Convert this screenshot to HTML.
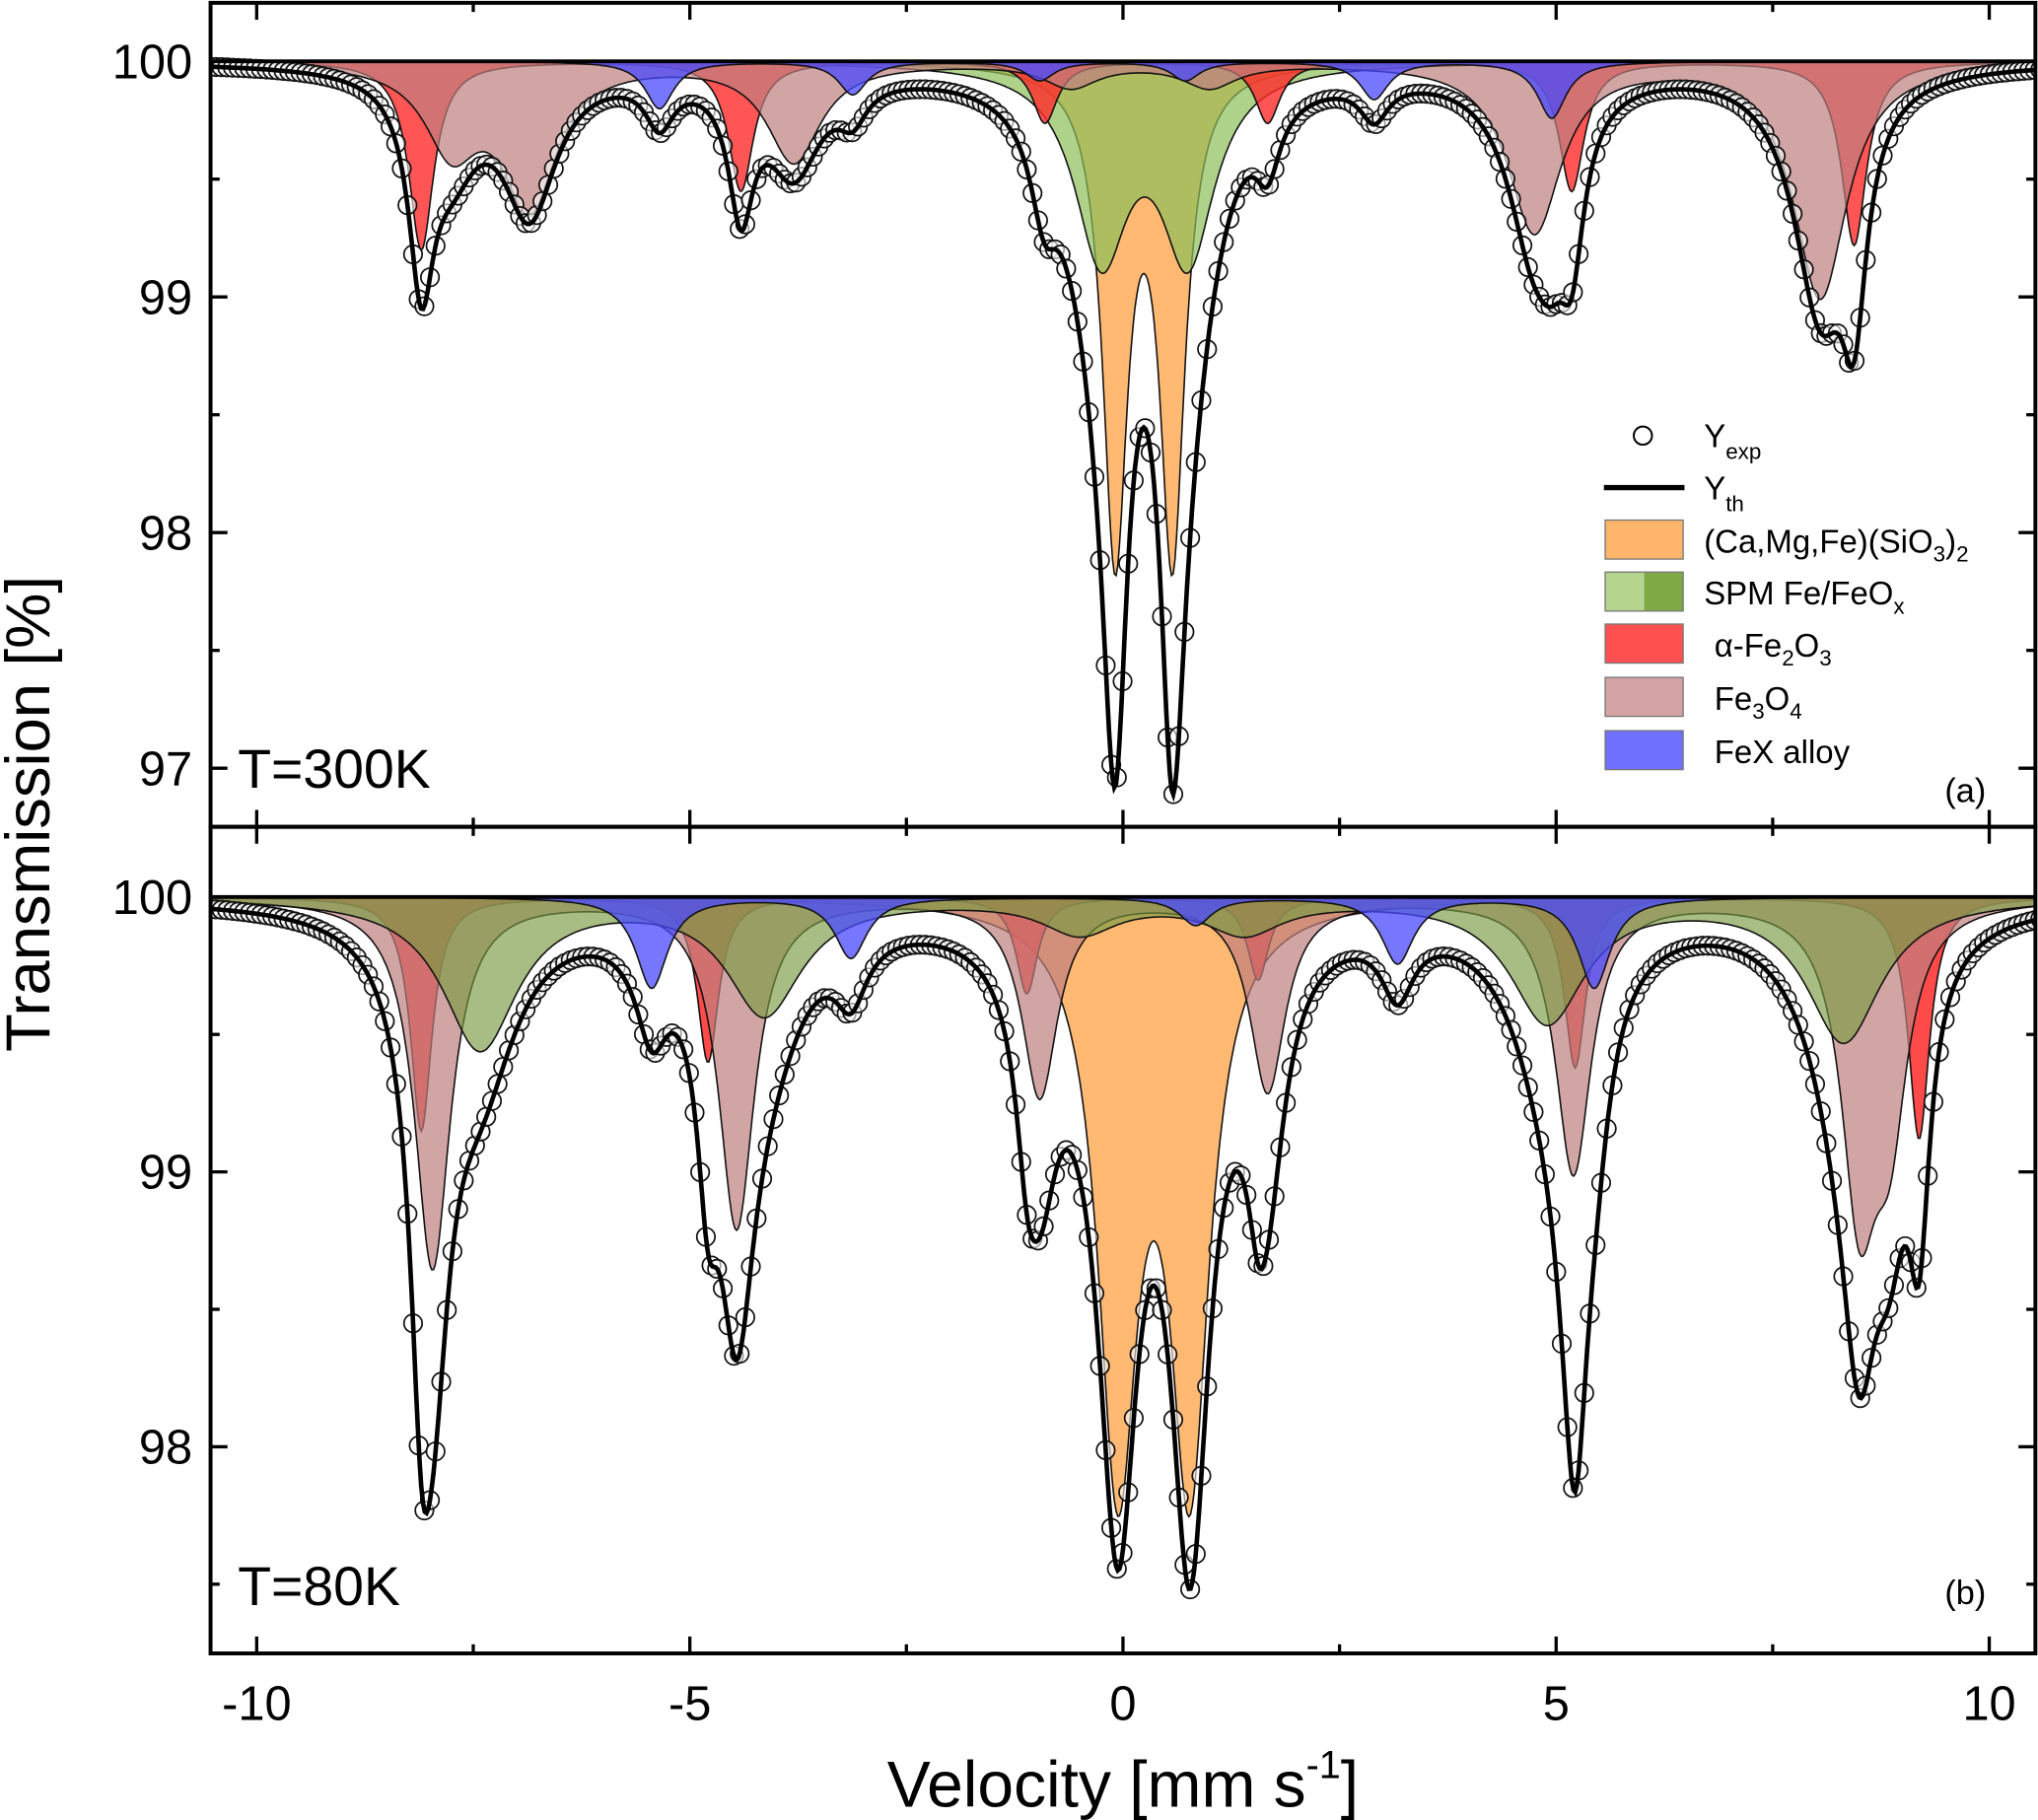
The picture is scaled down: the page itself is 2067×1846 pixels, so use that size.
<!DOCTYPE html>
<html><head><meta charset="utf-8"><style>
html,body{margin:0;padding:0;background:#fff;}
svg{display:block;font-family:"Liberation Sans",Arial,sans-serif;}
</style></head><body>
<svg id="chart" width="2067" height="1846" viewBox="0 0 1568 1400" xmlns="http://www.w3.org/2000/svg">
<defs>
<clipPath id="clipTop"><rect x="162" y="2" width="1404" height="634"/></clipPath>
<clipPath id="clipBot"><rect x="162" y="636" width="1404" height="636"/></clipPath>
</defs>
<g id="layer"></g>
</svg>
<script>
// ---- data: line positions (mm/s), depths (%), widths (mm/s) per subspectrum ----
// Top panel T=300K
const topOrangePos=[-0.09,0.57]; const topOrangeDepth=[2.05,2.05]; const topOrangeW=0.35;
const topGreenPos=[-0.25,0.75]; const topGreenDepth=[0.8,0.8]; const topGreenW=0.75;
const topRedPos=[-8.1,-4.41,-0.9,1.67,5.18,8.44]; const topRedDepth=[0.8,0.55,0.26,0.26,0.55,0.78]; const topRedW=0.35;
const topPinkPos=[-7.75,-6.85,-3.8,-0.6,1.0,4.75,8.05]; const topPinkDepth=[0.35,0.6,0.42,0.1,0.1,0.72,1.0]; const topPinkW=0.75;
const topBluePos=[-5.35,-3.12,-0.96,0.72,2.9,4.95]; const topBlueDepth=[0.2,0.14,0.08,0.08,0.16,0.24]; const topBlueW=0.4;
// Bottom panel T=80K
const botOrangePos=[-0.06,0.77]; const botOrangeDepth=[2.05,2.05]; const botOrangeW=0.55;
const botGreenPos=[-7.42,-4.14,-0.5,1.4,4.9,8.32]; const botGreenDepth=[0.55,0.42,0.12,0.12,0.45,0.52]; const botGreenW=1.05;
const botRedPos=[-8.1,-4.79,-1.11,1.56,5.22,9.19]; const botRedDepth=[0.85,0.6,0.35,0.3,0.62,0.88]; const botRedW=0.3;
const botPinkPos=[-7.97,-4.46,-0.96,1.67,5.2,8.5,8.85]; const botPinkDepth=[1.35,1.2,0.72,0.7,1.0,1.05,0.7]; const botPinkW=0.5;
const botBluePos=[-5.44,-3.14,0.84,3.17,5.44]; const botBlueDepth=[0.33,0.22,0.1,0.24,0.33]; const botBlueW=0.45;
// axis ticks
const xTicks=[-10,-5,0,5,10];
const topYTicks=[100,99,98,97];
const botYTicks=[100,99,98];

const NS="http://www.w3.org/2000/svg";
const layer=document.getElementById('layer');
function mk(tag,attrs,parent){const e=document.createElementNS(NS,tag);for(const k in attrs)e.setAttribute(k,attrs[k]);(parent||layer).appendChild(e);return e;}
const X0=162,X1=1566;
function xs(v){return 864+v*66.65;}
function lor(v,pos,dep,w){let s=0;const h=(w/2)*(w/2);for(let i=0;i<pos.length;i++){s+=dep[i]*h/((v-pos[i])*(v-pos[i])+h);}return s;}

function drawPanel(p){
  const ys=T=>p.y100+(100-T)*p.k;
  const g=mk('g',{'clip-path':'url(#'+p.clip+')'});
  
  
  const vs=[];for(let v=-10.7;v<=10.7;v+=0.02)vs.push(v);
  p.comps.forEach(c=>{
    let d='M'+xs(vs[0])+','+ys(100);
    vs.forEach(v=>{d+=' L'+xs(v).toFixed(1)+','+ys(100-lor(v,c.pos,c.dep,c.w)).toFixed(1);});
    d+=' L'+xs(vs[vs.length-1])+','+ys(100)+' Z';
    const e=mk('path',{d:d,fill:c.color,'fill-opacity':c.op,stroke:'#111','stroke-width':1.2},g);
    
    
  });
  const total=v=>100-p.comps.reduce((s,c)=>s+lor(v,c.pos,c.dep,c.w),0);
  const pg=mk('g',{},g);
  
  
  for(let v=-10.6;v<=10.6;v+=0.065){
    const c=mk('circle',{cx:xs(v).toFixed(1),cy:ys(total(v)).toFixed(1),r:7,fill:'#fff','fill-opacity':0.6,stroke:'#111','stroke-width':1.3},pg);
    
    
  }
  let d='';vs.forEach((v,i)=>{d+=(i?' L':'M')+xs(v).toFixed(1)+','+ys(total(v)).toFixed(1);});
  const th=mk('path',{d:d,fill:'none',stroke:'#000','stroke-width':3.5},g);
  
  
  const bl=mk('line',{x1:X0,x2:X1,y1:ys(100),y2:ys(100),stroke:'#000','stroke-width':3},g);
  
  
  p.yt.forEach(t=>{
    const y=ys(t);
    mk('line',{x1:X0,x2:X0+13,y1:y,y2:y,stroke:'#000','stroke-width':2.5});
    mk('line',{x1:X1,x2:X1-13,y1:y,y2:y,stroke:'#000','stroke-width':2.5});
    const ym=ys(t-0.5);
    if(ym<p.bottom-5){mk('line',{x1:X0,x2:X0+7,y1:ym,y2:ym,stroke:'#000','stroke-width':2.5});mk('line',{x1:X1,x2:X1-7,y1:ym,y2:ym,stroke:'#000','stroke-width':2.5});}
    const tx=mk('text',{x:148,y:y+13,'text-anchor':'end','font-size':37});
    tx.textContent=t;
    
    
  });
  const lab=mk('text',{x:183,y:p.tempY,'font-size':42});lab.textContent=p.temp;
  
  
  const pl=mk('text',{x:1528,y:p.letterY,'text-anchor':'end','font-size':26});pl.textContent=p.letter;
  
  
}
const C={orange:'#FFB56A',green:'#8DBF5A',red:'#FF2A2A',pink:'#BF7F7F',blue:'#4848FF'};
drawPanel({name:'top',clip:'clipTop',y100:47,k:181.3,bottom:636,yt:topYTicks,temp:'T=300K',tempY:606,letter:'(a)',letterY:617,comps:[
 {id:'orange',pos:topOrangePos,dep:topOrangeDepth,w:topOrangeW,color:C.orange,op:0.95},
 {id:'green',pos:topGreenPos,dep:topGreenDepth,w:topGreenW,color:C.green,op:0.7},
 {id:'red',pos:topRedPos,dep:topRedDepth,w:topRedW,color:C.red,op:0.8},
 {id:'pink',pos:topPinkPos,dep:topPinkDepth,w:topPinkW,color:C.pink,op:0.7},
 {id:'blue',pos:topBluePos,dep:topBlueDepth,w:topBlueW,color:C.blue,op:0.75}]});
drawPanel({name:'bottom',clip:'clipBot',y100:690,k:211.5,bottom:1272,yt:botYTicks,temp:'T=80K',tempY:1235,letter:'(b)',letterY:1234,comps:[
 {id:'orange',pos:botOrangePos,dep:botOrangeDepth,w:botOrangeW,color:C.orange,op:0.95},
 {id:'red',pos:botRedPos,dep:botRedDepth,w:botRedW,color:C.red,op:0.85},
 {id:'pink',pos:botPinkPos,dep:botPinkDepth,w:botPinkW,color:C.pink,op:0.7},
 {id:'green',pos:botGreenPos,dep:botGreenDepth,w:botGreenW,color:'#7A9A40',op:0.65},
 {id:'blue',pos:botBluePos,dep:botBlueDepth,w:botBlueW,color:C.blue,op:0.75}]});

const f1=mk('rect',{x:X0,y:2,width:X1-X0,height:634,fill:'none',stroke:'#000','stroke-width':3});

const f2=mk('rect',{x:X0,y:636,width:X1-X0,height:636,fill:'none',stroke:'#000','stroke-width':3});

xTicks.forEach(t=>{
  const x=xs(t);
  [[1272,-13],[636,-13],[636,13],[2,13]].forEach(([y,dy])=>mk('line',{x1:x,x2:x,y1:y,y2:y+dy,stroke:'#000','stroke-width':2.5}));
  const xm=xs(t+2.5);
  if(xm<X1)[[1272,-7],[636,-7],[636,7],[2,7]].forEach(([y,dy])=>mk('line',{x1:xm,x2:xm,y1:y,y2:y+dy,stroke:'#000','stroke-width':2.5}));
  const tx=mk('text',{x:x,y:1323,'text-anchor':'middle','font-size':37});tx.textContent=t;
  
});
const xt=mk('text',{x:864,y:1390,'text-anchor':'middle','font-size':50});
xt.innerHTML='Velocity [mm s<tspan font-size="30" dy="-22">-1</tspan><tspan dy="22">]</tspan>';

const yt=mk('text',{x:0,y:0,'text-anchor':'middle','font-size':48,transform:'translate(38,626) rotate(-90)'});
yt.textContent='Transmission [%]';


const lg=mk('g',{});

const circ=mk('circle',{cx:1264,cy:335,r:7,fill:'#fff',stroke:'#000','stroke-width':1.5},lg);

const ln=mk('line',{x1:1234,x2:1296,y1:375,y2:375,stroke:'#000','stroke-width':4},lg);

const entries=[
 {y:335,html:'Y<tspan font-size="17" dy="9">exp</tspan>',name:'legend-entry-yexp'},
 {y:375,html:'Y<tspan font-size="17" dy="9">th</tspan>',name:'legend-entry-yth'},
 {y:416,html:'(Ca,Mg,Fe)(SiO<tspan font-size="17" dy="7">3</tspan><tspan dy="-7">)</tspan><tspan font-size="17" dy="7">2</tspan>',name:'legend-entry-pyroxene',box:[C.orange]},
 {y:456,html:'SPM Fe/FeO<tspan font-size="17" dy="7">x</tspan>',name:'legend-entry-spm',box:['#B5D58E','#7DAA45']},
 {y:496,html:'\u03b1-Fe<tspan font-size="17" dy="7">2</tspan><tspan dy="-7">O</tspan><tspan font-size="17" dy="7">3</tspan>',name:'legend-entry-hematite',box:['#FF5050'],dx:8},
 {y:537,html:'Fe<tspan font-size="17" dy="7">3</tspan><tspan dy="-7">O</tspan><tspan font-size="17" dy="7">4</tspan>',name:'legend-entry-magnetite',box:['#D4A4A4'],dx:8},
 {y:578,html:'FeX alloy',name:'legend-entry-fex',box:['#7070FF'],dx:8}];
entries.forEach(e=>{
  if(e.box){
    if(e.box.length===1){const r=mk('rect',{x:1235,y:e.y-16,width:60,height:30,fill:e.box[0],stroke:'#777','stroke-width':1},lg);}
    else{mk('rect',{x:1235,y:e.y-16,width:30,height:30,fill:e.box[0]},lg);mk('rect',{x:1265,y:e.y-16,width:30,height:30,fill:e.box[1]},lg);const r=mk('rect',{x:1235,y:e.y-16,width:60,height:30,fill:'none',stroke:'#777'},lg);}
  }
  const t=mk('text',{x:1311+(e.dx||0),y:e.y+9,'font-size':25},lg);
  t.innerHTML=e.html;
  
  
});
</script>
</body></html>
